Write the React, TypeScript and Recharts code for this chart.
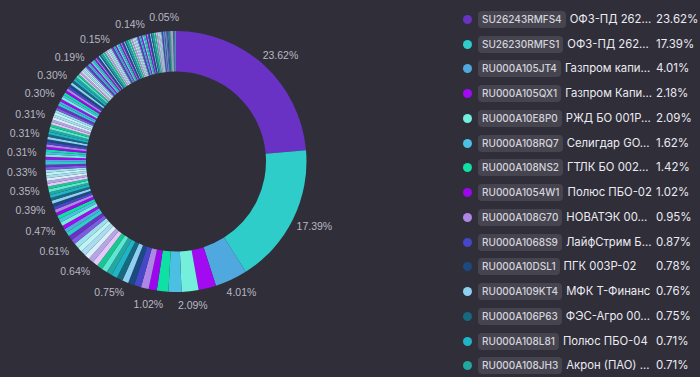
import React from 'react';
import { PieChart, Pie, Cell, Legend } from 'recharts';

const isins = [
  'SU26243RMFS4', 'SU26230RMFS1', 'RU000A105JT4', 'RU000A105QX1', 'RU000A10E8P0',
  'RU000A108RQ7', 'RU000A108NS2', 'RU000A1054W1', 'RU000A108G70', 'RU000A1068S9',
  'RU000A10DSL1', 'RU000A109KT4', 'RU000A106P63', 'RU000A108L81', 'RU000A108JH3',
];
const names = [
  'ОФЗ-ПД 262...', 'ОФЗ-ПД 262...', 'Газпром капи...', 'Газпром Капи...', 'РЖД БО 001Р...',
  'Селигдар GO...', 'ГТЛК БО 002...', 'Полюс ПБО-02', 'НОВАТЭК 00...', 'ЛайфСтрим Б...',
  'ПГК 003Р-02', 'МФК Т-Финанс', 'ФЭС-Агро 00...', 'Полюс ПБО-04', 'Акрон (ПАО) ...',
];
const topShares = [23.62, 17.39, 4.01, 2.18, 2.09, 1.62, 1.42, 1.02, 0.95, 0.87, 0.78, 0.76, 0.75, 0.71, 0.71];

const tailShares = [
  0.70, 0.70, 0.68, 0.64,
  0.63, 0.63, 0.62, 0.62, 0.61,
  0.58, 0.52, 0.48, 0.47, 0.47,
  0.46, 0.44, 0.41, 0.39, 0.39,
  0.39, 0.38, 0.37, 0.37, 0.36, 0.35,
  0.35, 0.35, 0.34, 0.34, 0.34, 0.33, 0.33,
  0.33, 0.33, 0.32, 0.32, 0.31, 0.31, 0.31, 0.31,
  0.31, 0.31, 0.31, 0.31, 0.31, 0.31,
  0.31, 0.31, 0.31, 0.31, 0.31, 0.31, 0.31,
  0.31, 0.31, 0.30, 0.30, 0.30, 0.30, 0.30, 0.30,
  0.30, 0.30, 0.30, 0.30, 0.30, 0.30, 0.30, 0.30, 0.30,
  0.28, 0.26, 0.24, 0.22, 0.21, 0.20,
  0.19, 0.19, 0.19, 0.19, 0.19, 0.19,
  0.18, 0.18, 0.18, 0.17, 0.17, 0.17, 0.17, 0.16, 0.16, 0.16, 0.16, 0.16,
  0.15, 0.15, 0.15, 0.15, 0.15, 0.15, 0.15, 0.15, 0.15, 0.15, 0.15, 0.15, 0.15, 0.15,
  0.14, 0.14, 0.14, 0.14, 0.14, 0.14, 0.14, 0.14, 0.14, 0.14, 0.14, 0.14, 0.14,
  0.14, 0.14, 0.14, 0.14, 0.14, 0.14, 0.14, 0.14, 0.14, 0.14, 0.14, 0.14,
  0.14, 0.14, 0.14, 0.14,
  0.13, 0.13, 0.13, 0.13, 0.13, 0.13,
  0.12, 0.12, 0.12, 0.12, 0.12,
  0.11, 0.11, 0.11, 0.11,
  0.10, 0.10, 0.10,
  0.09, 0.08, 0.07, 0.05,
  0.05, 0.05, 0.05, 0.05, 0.05, 0.05, 0.05, 0.05, 0.05, 0.05, 0.05, 0.05,
  0.05, 0.05, 0.05, 0.05, 0.05, 0.05, 0.05, 0.05, 0.05, 0.05, 0.05, 0.05,
];

const palette = [
  '#6a32c4', '#2ecdca', '#4fa9de', '#a20af2', '#74efdc', '#4bc0e2', '#0fe0a4', '#9b08ee',
  '#ad86e6', '#4646c8', '#1b4a80', '#8ecff2', '#16697e', '#20b4c8', '#21a8a0',
  '#5ee6d2', '#18c890', '#e4c8fa', '#b4a6e6', '#dceef8', '#a8dcf0', '#c0f4f4', '#9ee0ec', '#7c5ce0',
];

const BG = '#2f2e39';

const data = [
  ...topShares.map((v, i) => ({ name: `${isins[i]} ${names[i]}`, value: v })),
  ...tailShares.map((v, i) => ({ name: `other-${i + 1}`, value: v })),
];

const RAD = Math.PI / 180;
const placed: { x: number; y: number; w: number; h: number }[] = [];

const renderLabel = (props: any) => {
  const { cx, cy, midAngle, outerRadius, index, value } = props;
  if (index === 0) placed.length = 0;
  const text = `${Number(value).toFixed(2)}%`;
  const rx = outerRadius + 24;
  const ry = outerRadius + 14;
  const x = cx + rx * Math.cos(-midAngle * RAD);
  const y = cy + ry * Math.sin(-midAngle * RAD);
  const w = text.length * 6.8;
  const h = 18;
  for (const b of placed) {
    if (Math.abs(b.x - x) < (b.w + w) / 2 && Math.abs(b.y - y) < (b.h + h) / 2) return null;
  }
  placed.push({ x, y, w, h });
  return (
    <text
      x={x}
      y={y}
      textAnchor="middle"
      dominantBaseline="central"
      fill="#b9b8c2"
      fontSize={10.5}
      fontFamily="'Liberation Sans', Arial, sans-serif"
    >
      {text}
    </text>
  );
};

const renderLegend = () => (
  <div style={{ fontFamily: 'Inter, sans-serif' }}>
    {topShares.map((v, i) => (
      <div key={i} style={{ position: 'relative', height: 24.75 }}>
        <span
          style={{
            position: 'absolute', left: 7.5, top: 7.9, width: 9, height: 9,
            borderRadius: '50%', background: palette[i],
          }}
        />
        <span
          style={{
            position: 'absolute', left: 23, top: 3.9, height: 17, lineHeight: '17px',
            padding: '0 4px', borderRadius: 4, background: '#46454f',
            color: '#d4d3dc', fontSize: 10, fontWeight: 500, whiteSpace: 'nowrap',
          }}
        >
          {isins[i]}
          <span
            style={{
              position: 'absolute', left: '100%', top: 0, marginLeft: 4,
              color: '#ecebf2', fontSize: 11.3, fontWeight: 400,
            }}
          >
            {names[i]}
          </span>
        </span>
        <span
          style={{
            position: 'absolute', left: 201, top: 3.9, lineHeight: '17px',
            color: '#ecebf2', fontSize: 11.5, whiteSpace: 'nowrap',
          }}
        >
          {`${v.toFixed(2)}%`}
        </span>
      </div>
    ))}
  </div>
);

export default function App() {
  placed.length = 0;
  return (
    <div style={{ position: 'fixed', left: 0, top: 0, width: 700, height: 377, background: BG, overflow: 'hidden' }}>
      <PieChart width={700} height={377} margin={{ top: 0, right: 0, bottom: 0, left: 0 }}>
        <Pie
          data={data}
          dataKey="value"
          nameKey="name"
          cx={176}
          cy={161.5}
          innerRadius={90}
          outerRadius={130.5}
          startAngle={90}
          endAngle={-270}
          stroke="none"
          label={renderLabel}
          labelLine={false}
          isAnimationActive={false}
        >
          {data.map((_, i) => (
            <Cell key={i} fill={palette[i % palette.length]} />
          ))}
        </Pie>
        <Legend
          content={renderLegend}
          wrapperStyle={{ position: 'absolute', left: 455, top: 7, width: 245, height: 372 }}
        />
      </PieChart>
    </div>
  );
}
